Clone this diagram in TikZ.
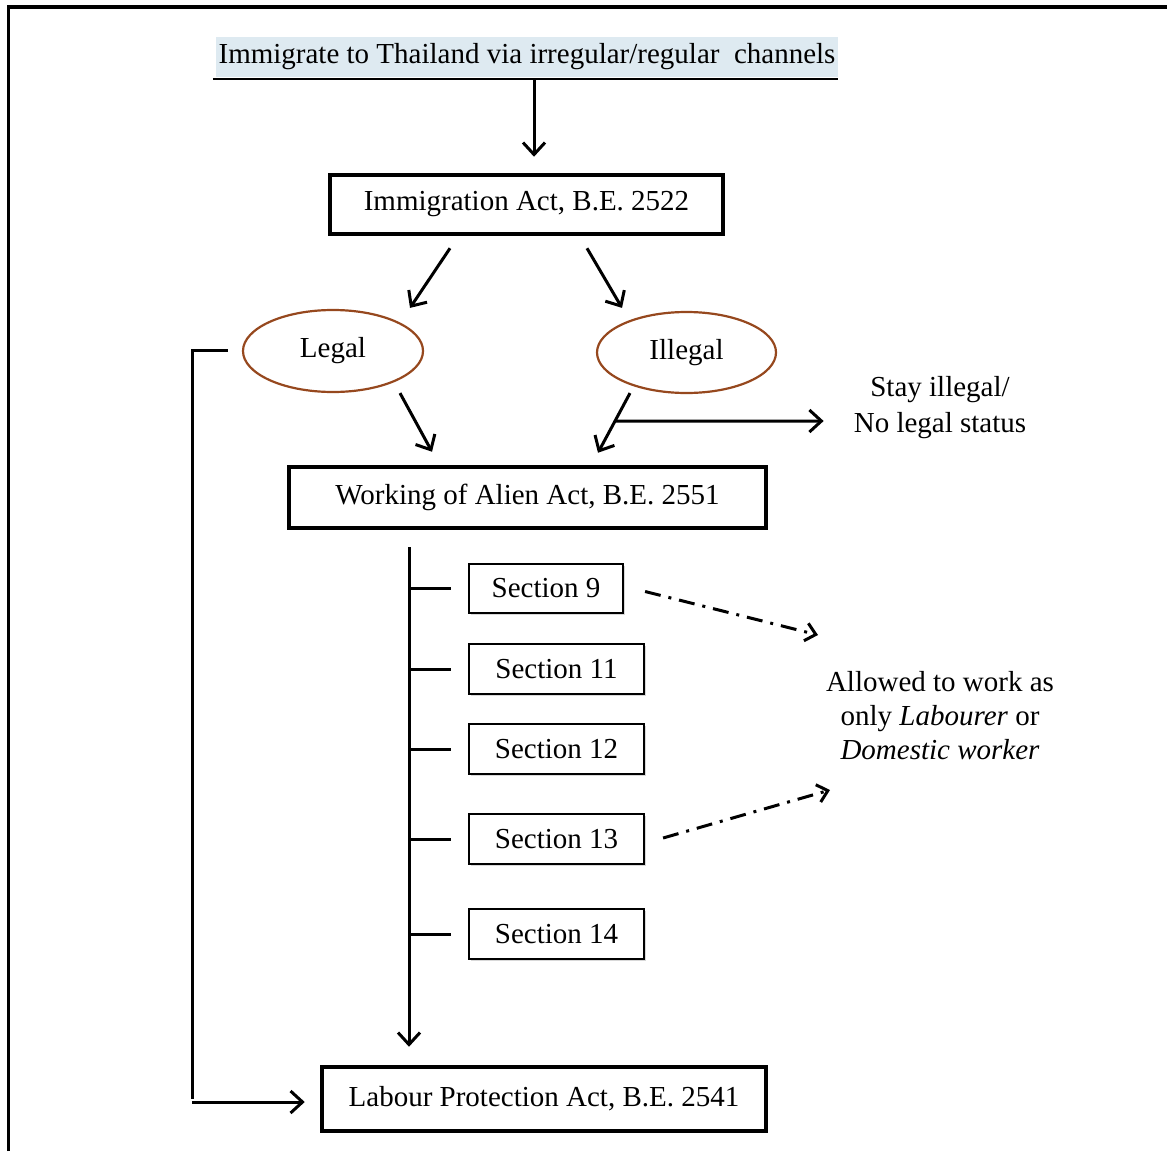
\documentclass[tikz,border=0pt]{standalone}
\usepackage{fontspec}
\setmainfont{Liberation Serif}
\usetikzlibrary{arrows.meta,calc,shapes.geometric,shadows}
\definecolor{brownline}{RGB}{150,72,30}
\definecolor{topblue}{RGB}{222,234,241}
\begin{document}
\begin{tikzpicture}[x=1pt,y=-1pt,
  txt/.style={font=\fontsize{29}{36}\selectfont, inner sep=0pt, align=center},
  actbox/.style={txt, draw, line width=4.5pt},
  secbox/.style={txt, draw, line width=2.2pt, fill=white,
     drop shadow={shadow xshift=2pt, shadow yshift=-2pt, fill=black!30}},
  oval/.style={txt, draw=brownline, line width=2.2pt, ellipse, minimum width=180pt, minimum height=82pt},
  arr/.style={line width=3pt, -{Straight Barb[length=12pt,width=22pt,line width=3pt]}},
  plain/.style={line width=3pt},
  dd/.style={line width=3pt, dash pattern=on 16pt off 8pt on 3pt off 8pt,
     -{Straight Barb[length=10pt,width=18pt,line width=3pt]}}
]
\useasboundingbox (0,0) rectangle (1167,1151);
% frame (only top and left edges are visible)
\draw[line width=3.5pt] (8.5,1151) -- (8.5,7) -- (1167,7);

% nodes
\node[txt, fill=topblue, minimum width=622pt, minimum height=40pt] (top) at (527,57)
  {Immigrate to Thailand via irregular/regular\ \ channels};
\node[actbox, minimum width=393pt, minimum height=59pt] (box1) at (526.5,204.5) {Immigration Act, B.E. 2522};
\node[oval] (legal) at (333,351) {Legal};
\node[oval, minimum width=179pt, minimum height=81pt] (illegal) at (686.5,352.5) {Illegal};
\node[txt] (stay) at (940,408) {Stay illegal/\\No legal status};
\node[actbox, minimum width=477pt, minimum height=61pt] (box2) at (527.5,497.5) {Working of Alien Act, B.E. 2551};
\node[secbox, minimum width=154pt, minimum height=49pt] (s9) at (546,588.5) {Section 9};
\node[secbox, minimum width=175pt, minimum height=50pt] (s11) at (556.5,669) {Section 11};
\node[secbox, minimum width=175pt, minimum height=50pt] (s12) at (556.5,749) {Section 12};
\node[secbox, minimum width=175pt, minimum height=50pt] (s13) at (556.5,839) {Section 13};
\node[secbox, minimum width=175pt, minimum height=50pt] (s14) at (556.5,934) {Section 14};
\node[txt, font=\fontsize{29}{34}\selectfont] (allowed) at (940,716)
  {Allowed to work as\\only \textit{Labourer} or\\\textit{Domestic worker}};
\node[actbox, minimum width=444pt, minimum height=64pt] (labour) at (544,1099) {Labour Protection Act, B.E. 2541};

% underline of the top text
\draw[line width=2pt] ($(top.south west)+(-3,2)$) -- ($(top.south east)+(0,2)$);

% connectors
\draw[arr] ($(top.south)+(7,2)$) -- ($(box1.north)+(7.5,-16)$);
\draw[arr] ($(box1.south)+(-76.5,12)$) -- ($(legal.north)+(77,-1)$);
\draw[arr] ($(box1.south)+(60.5,12)$) -- ($(illegal.north)+(-64.5,-3)$);
\draw[arr] ($(legal.south)+(67,0)$) -- ($(box2.north)+(-95.5,-13)$);
\coordinate (a5s) at ($(illegal.south)+(-56.5,-1)$);
\coordinate (a5e) at ($(box2.north)+(70.5,-12)$);
\draw[arr] (a5s) -- (a5e);
\coordinate (split) at ($(a5s)!0.47!(a5e)$);
\draw[arr] (split) -- ($(stay.west)+(-30,13)$);

% trunk and section ticks
\coordinate (trunktop) at ($(box2.south)+(-118.5,17)$);
\draw[arr] (trunktop) -- ($(labour.north)+(-135,-18)$);
\foreach \s in {s9,s11,s12,s13,s14}
  \draw[plain] ($(\s.west)+(-17,0)$) -- (\s.west -| trunktop);

% dash-dot arrows
\draw[dd] ($(s9.east)+(21,3)$) -- ($(allowed.center)+(-122,-81)$);
\draw[dd] ($(s13.east)+(18,-1)$) -- ($(allowed.center)+(-110,74)$);

% left loop
\coordinate (loopc) at (192,350);
\draw[arr] ($(legal.west)+(-14,-1)$) -- (loopc) -- (loopc |- labour.west) ++(0,3) -- ($(labour.west)+(-15,3)$);
\end{tikzpicture}
\end{document}
